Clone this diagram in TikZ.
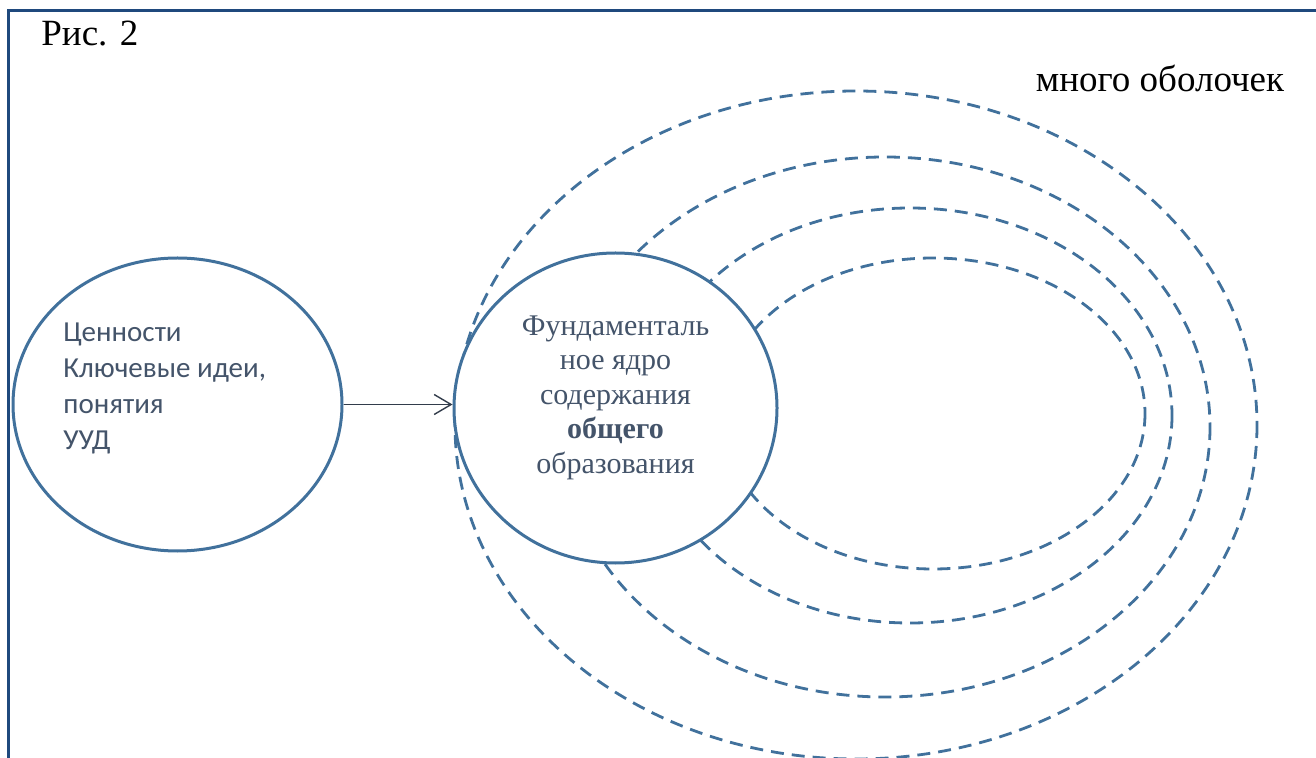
\documentclass[tikz,border=0pt]{standalone}
\usepackage{fontspec}
\setmainfont{Liberation Serif}
\newfontfamily\calibri{Carlito}
\usetikzlibrary{arrows.meta,shapes.geometric}
\definecolor{framec}{RGB}{31,73,125}
\definecolor{linec}{RGB}{65,113,156}
\definecolor{textc}{RGB}{68,84,106}
\definecolor{arrowc}{RGB}{50,60,75}

\begin{document}
\begin{tikzpicture}[x=0.5pt,y=-0.5pt,
    blob/.style={ellipse,draw=linec,line width=1.5pt,fill=white,inner sep=0pt},
    shell/.style={draw=linec,line width=1.4pt,dash pattern=on 6.5pt off 4pt},
    link/.style={draw=arrowc,line width=0.7pt,-{Straight Barb[length=8.5pt,width=10pt]}}]
  \useasboundingbox (0,0) rectangle (1316,758);
  \draw[framec,line width=1.5pt] (8,770) -- (8,11) -- (1330,11);

  % shells round the core
  \foreach \cx/\cy/\rx/\ry in {856/425/401/334,885/427/325/270,910/415.5/262/207.5,933/413.5/212/155.5} {
    \draw[shell] (\cx,\cy) ellipse [x radius=\rx, y radius=\ry];
  }

  \node[blob,minimum width=164.5pt,minimum height=146.5pt] (values) at (177.5,404.5) {};
  \node[blob,minimum width=161.5pt,minimum height=155pt] (core) at (615.5,408) {};
  \draw[link] (values.east) -- (values.east -| core.west);

  \node[font=\fontsize{18.5pt}{22pt}\selectfont,anchor=base west,inner sep=0pt] (fig) at (41,46) {Рис. 2};
  \node[font=\fontsize{18.5pt}{22pt}\selectfont,anchor=base,inner sep=0pt] (many) at (1160,92) {много оболочек};
  \node[font=\calibri\fontsize{14.5pt}{18pt}\selectfont,text=textc,align=left,anchor=north west,inner sep=0pt] (valtext) at (63,322)
    {Ценности\\Ключевые идеи,\\понятия\\УУД};
  \node[font=\fontsize{15pt}{17.25pt}\selectfont,text=textc,align=center,anchor=north,inner sep=0pt] (coretext) at (615.5,315)
    {Фундаменталь\\ное ядро\\содержания\\\textbf{общего}\\образования};
\end{tikzpicture}
\end{document}
